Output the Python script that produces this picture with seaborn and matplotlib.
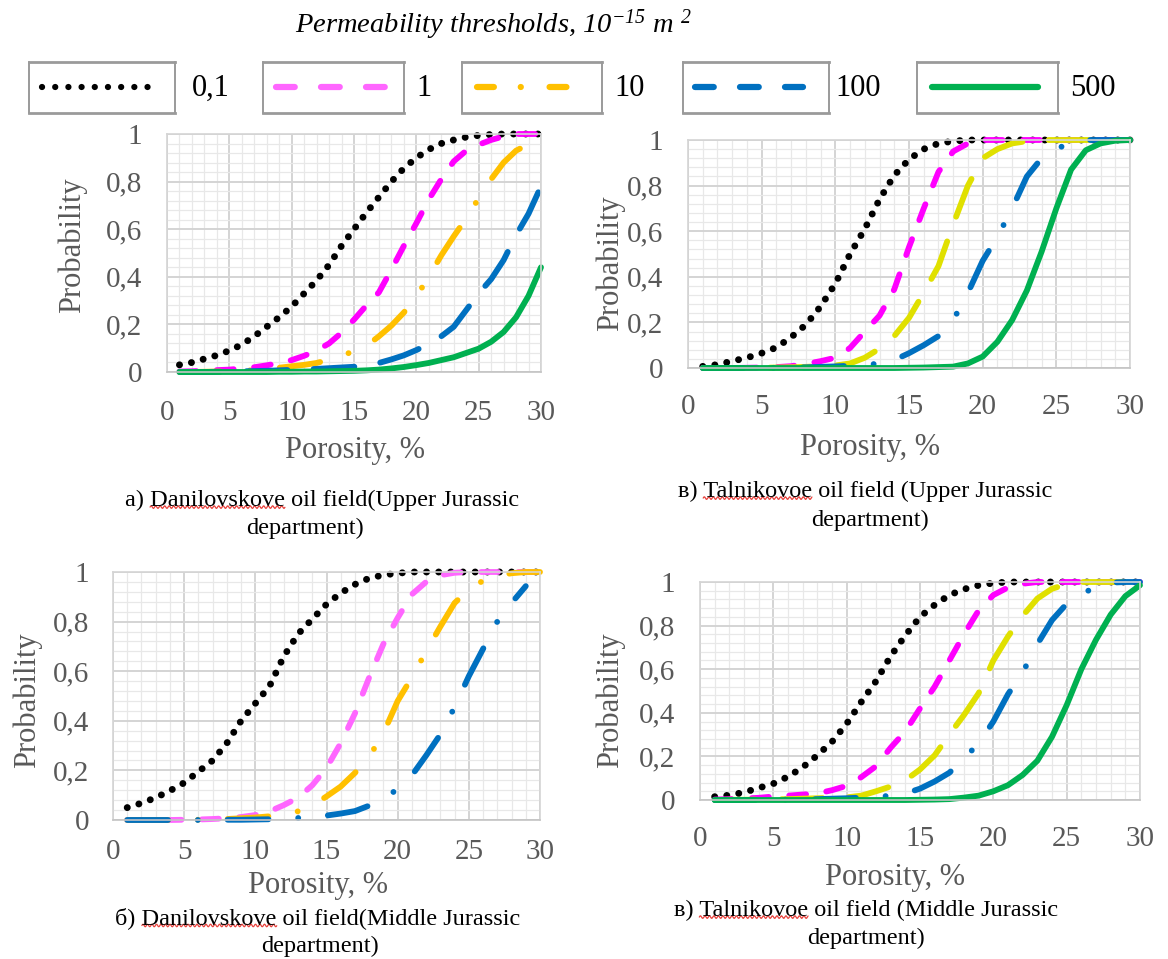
import numpy as np
import pandas as pd
import matplotlib
matplotlib.use("Agg")
import matplotlib.pyplot as plt
import seaborn as sns
from matplotlib.ticker import MultipleLocator, FuncFormatter
from matplotlib.lines import Line2D
from matplotlib.transforms import IdentityTransform

# ---------------- data ----------------
porosity = list(range(1, 31))
thresholds = ["0,1", "1", "10", "100", "500"]

# a) Danilovskove, Upper Jurassic
dan_up_01 = [0.03, 0.04, 0.055, 0.07, 0.09, 0.115, 0.15, 0.19, 0.23, 0.275, 0.33, 0.385, 0.45, 0.53, 0.60,
             0.67, 0.735, 0.80, 0.856, 0.90, 0.935, 0.96, 0.975, 0.987, 0.994, 0.998, 1, 1, 1, 1]
dan_up_1 = [0.002, 0.003, 0.005, 0.008, 0.01, 0.015, 0.02, 0.028, 0.038, 0.05, 0.068, 0.09, 0.12, 0.165, 0.22,
            0.28, 0.335, 0.43, 0.53, 0.625, 0.725, 0.81, 0.885, 0.93, 0.955, 0.975, 0.99, 1, 1, 1]
dan_up_10 = [0, 0, 0.001, 0.002, 0.003, 0.005, 0.008, 0.012, 0.018, 0.024, 0.03, 0.038, 0.052, 0.068, 0.088,
             0.11, 0.15, 0.195, 0.25, 0.317, 0.40, 0.49, 0.57, 0.645, 0.73, 0.81, 0.88, 0.93, 0.957, 0.975]
dan_up_100 = [0, 0, 0, 0.001, 0.002, 0.003, 0.004, 0.005, 0.007, 0.009, 0.011, 0.013, 0.016, 0.019, 0.022,
              0.027, 0.038, 0.053, 0.07, 0.092, 0.118, 0.15, 0.19, 0.26, 0.33, 0.39, 0.47, 0.575, 0.665, 0.78]
dan_up_500 = [0, 0, 0, 0, 0, 0, 0, 0, 0.001, 0.001, 0.002, 0.002, 0.003, 0.004, 0.005,
              0.007, 0.01, 0.015, 0.021, 0.029, 0.038, 0.05, 0.062, 0.08, 0.098, 0.127, 0.168, 0.23, 0.32, 0.44]

# в) Talnikovoe, Upper Jurassic
tal_up_01 = [0.007, 0.015, 0.03, 0.045, 0.065, 0.09, 0.135, 0.19, 0.27, 0.37, 0.50, 0.61, 0.74, 0.845, 0.915,
             0.96, 0.985, 0.995, 1, 1, 1, 1, 1, 1, 1, 1, 1, 1, 1, 1]
tal_up_1 = [0, 0, 0, 0.001, 0.002, 0.004, 0.008, 0.018, 0.03, 0.045, 0.088, 0.16, 0.23, 0.345, 0.53,
            0.70, 0.86, 0.95, 0.985, 1, 1, 1, 1, 1, 1, 1, 1, 1, 1, 1]
tal_up_10 = [0, 0, 0, 0, 0.001, 0.002, 0.003, 0.005, 0.008, 0.011, 0.02, 0.045, 0.085, 0.14, 0.22,
             0.33, 0.447, 0.63, 0.80, 0.92, 0.96, 0.985, 0.995, 1, 1, 1, 1, 1, 1, 1]
tal_up_100 = [0, 0, 0, 0, 0, 0.001, 0.002, 0.003, 0.005, 0.007, 0.01, 0.013, 0.02, 0.035, 0.065,
              0.10, 0.14, 0.21, 0.33, 0.47, 0.575, 0.70, 0.84, 0.92, 0.96, 0.99, 1, 1, 1, 1]
tal_up_500 = [0, 0, 0, 0, 0, 0, 0, 0, 0, 0, 0, 0, 0, 0, 0.001,
              0.002, 0.004, 0.006, 0.02, 0.05, 0.115, 0.21, 0.34, 0.51, 0.70, 0.87, 0.955, 0.985, 0.997, 1]

# б) Danilovskove, Middle Jurassic
dan_mid_01 = [0.05, 0.068, 0.09, 0.118, 0.15, 0.195, 0.24, 0.31, 0.40, 0.47, 0.54, 0.66, 0.75, 0.81, 0.87,
              0.915, 0.95, 0.975, 0.988, 0.995, 1, 1, 1, 1, 1, 1, 1, 1, 1, 1]
dan_mid_1 = [0, 0, 0, 0, 0.001, 0.002, 0.004, 0.007, 0.012, 0.02, 0.035, 0.06, 0.09, 0.14, 0.21,
             0.31, 0.43, 0.575, 0.71, 0.815, 0.91, 0.96, 0.987, 0.997, 1, 1, 1, 1, 1, 1]
dan_mid_10 = [0, 0, 0, 0, 0, 0.001, 0.002, 0.004, 0.007, 0.01, 0.015, 0.022, 0.035, 0.058, 0.095,
              0.135, 0.19, 0.255, 0.35, 0.48, 0.575, 0.68, 0.78, 0.875, 0.93, 0.965, 0.985, 0.995, 1, 1]
dan_mid_100 = [0, 0, 0, 0, 0, 0, 0, 0.001, 0.001, 0.002, 0.003, 0.005, 0.008, 0.012, 0.018,
               0.026, 0.036, 0.058, 0.085, 0.125, 0.18, 0.26, 0.345, 0.455, 0.58, 0.69, 0.80, 0.875, 0.943, np.nan]

# в) Talnikovoe, Middle Jurassic
tal_mid_01 = [0.015, 0.022, 0.035, 0.055, 0.075, 0.107, 0.15, 0.205, 0.267, 0.35, 0.45, 0.545, 0.66, 0.755, 0.84,
              0.895, 0.94, 0.967, 0.985, 0.995, 1, 1, 1, 1, 1, 1, 1, 1, 1, 1]
tal_mid_1 = [0.002, 0.004, 0.007, 0.01, 0.016, 0.02, 0.025, 0.03, 0.045, 0.065, 0.105, 0.155, 0.24, 0.315, 0.42,
             0.52, 0.64, 0.76, 0.87, 0.94, 0.975, 0.992, 1, 1, 1, 1, 1, 1, 1, 1]
tal_mid_10 = [0, 0.001, 0.001, 0.002, 0.003, 0.004, 0.006, 0.008, 0.01, 0.012, 0.02, 0.04, 0.062, 0.09, 0.14,
              0.205, 0.30, 0.39, 0.49, 0.64, 0.75, 0.845, 0.924, 0.969, 0.99, 1, 1, 1, 1, 1]
tal_mid_100 = [0, 0, 0, 0.001, 0.001, 0.002, 0.003, 0.004, 0.006, 0.008, 0.011, 0.014, 0.02, 0.03, 0.052,
               0.085, 0.125, 0.19, 0.26, 0.36, 0.485, 0.585, 0.715, 0.825, 0.9, 0.945, 0.977, 0.997, 1, 1]
tal_mid_500 = [0, 0, 0, 0, 0, 0, 0, 0, 0, 0, 0, 0, 0, 0, 0.001,
               0.002, 0.004, 0.011, 0.02, 0.04, 0.068, 0.115, 0.18, 0.29, 0.435, 0.60, 0.735, 0.85, 0.935, 0.985]

captions = [
    ("а) ", "Danilovskove", " oil field(Upper Jurassic", "department)"),
    ("в) ", "Talnikovoe", " oil field (Upper Jurassic", "department)"),
    ("б) ", "Danilovskove", " oil field(Middle Jurassic", "department)"),
    ("в) ", "Talnikovoe", " oil field (Middle Jurassic", "department)"),
]

# ---------------- styling ----------------
sns.set_theme(style="white")
plt.rcParams["font.family"] = ["Liberation Serif", "DejaVu Serif"]
plt.rcParams["mathtext.fontset"] = "custom"
plt.rcParams["mathtext.rm"] = "Liberation Serif:italic"
plt.rcParams["mathtext.it"] = "Liberation Serif:italic"

W, H = 1168, 959
fig = plt.figure(figsize=(W / 100, H / 100), dpi=100)
fig.patch.set_facecolor("white")


def rect(l, t, r, b):
    return [l / W, 1 - b / H, (r - l) / W, (b - t) / H]


BLACK, MAG, PINK = "#000000", "#ff00ff", "#ff66ff"
ORANGE, YELLOW, BLUE, GREEN = "#ffc000", "#e0e000", "#0070c0", "#00b050"
DOT = (0, (0.01, 1.74))
DASH = (0, (2.9, 3.5))
LDASH = (0, (7, 4.5))
DASHDOT = (0, (7, 5.1, 0.01, 5.1))
SOLID = "-"
LW = 4.2
LW_DOT = 5.0
TICK_FS, LAB_FS, CAP_FS = 21, 22, 17.5

panels = [
    dict(box=(167, 134, 541, 372), tickpad=(20, 18),
         ylab=(72, 245), xlab=(355, 450), cap=(322, 500, 305, 528), capt=captions[0],
         series=[(dan_up_01, BLACK, DOT), (dan_up_1, MAG, DASH), (dan_up_10, ORANGE, DASHDOT),
                 (dan_up_100, BLUE, LDASH), (dan_up_500, GREEN, SOLID)]),
    dict(box=(688, 140, 1130, 368), tickpad=(19, 18),
         ylab=(610, 263), xlab=(870, 448), cap=(865, 491, 870, 520), capt=captions[1],
         series=[(tal_up_01, BLACK, DOT), (tal_up_1, MAG, DASH), (tal_up_10, YELLOW, LDASH),
                 (tal_up_100, BLUE, DASHDOT), (tal_up_500, GREEN, SOLID)]),
    dict(box=(113, 572, 540, 820), tickpad=(14, 17),
         ylab=(27, 700), xlab=(318, 886), cap=(318, 918, 320, 946), capt=captions[2],
         series=[(dan_mid_01, BLACK, DOT), (dan_mid_1, PINK, DASH), (dan_mid_10, ORANGE, DASHDOT),
                 (dan_mid_100, BLUE, DASHDOT)]),
    dict(box=(700, 582, 1140, 800), tickpad=(19, 18),
         ylab=(610, 700), xlab=(895, 877), cap=(866, 910, 866, 938), capt=captions[3],
         series=[(tal_mid_01, BLACK, DOT), (tal_mid_1, MAG, DASH), (tal_mid_10, YELLOW, LDASH),
                 (tal_mid_100, BLUE, DASHDOT), (tal_mid_500, GREEN, SOLID)]),
]

fmt = FuncFormatter(lambda v, p: ("%g" % round(v, 2)).replace(".", ","))

for p in panels:
    l, t, r, b = p["box"]
    ax = fig.add_axes(rect(l, t, r, b))
    for vals, col, ls in p["series"]:
        df = pd.DataFrame({"Porosity": porosity, "Probability": vals})
        sns.lineplot(data=df, x="Porosity", y="Probability", ax=ax, color=col,
                     linestyle=ls, linewidth=(LW_DOT if ls == DOT else LW),
                     estimator=None, sort=False)
        ln = ax.lines[-1]
        ln.set_dash_capstyle("round")
        ln.set_solid_capstyle("round")
        ln.set_clip_on(False)
    ax.set_xlim(0, 30)
    ax.set_ylim(0, 1)
    ax.xaxis.set_major_locator(MultipleLocator(5))
    ax.xaxis.set_minor_locator(MultipleLocator(1))
    ax.yaxis.set_major_locator(MultipleLocator(0.2))
    ax.yaxis.set_minor_locator(MultipleLocator(0.04))
    ax.xaxis.set_major_formatter(fmt)
    ax.yaxis.set_major_formatter(fmt)
    ax.set_axisbelow(True)
    ax.grid(True, which="major", color="#d4d4d4", linewidth=1.4)
    ax.grid(True, which="minor", color="#e8e8e8", linewidth=0.9)
    for s in ax.spines.values():
        s.set_color("#d4d4d4")
        s.set_linewidth(1.2)
    ax.spines["bottom"].set_color("#c4c4c4")
    ax.tick_params(which="both", length=0, labelsize=TICK_FS, labelcolor="#595959")
    ax.tick_params(axis="x", pad=p["tickpad"][0])
    ax.tick_params(axis="y", pad=p["tickpad"][1])
    ax.set_xlabel("Porosity, %", fontsize=LAB_FS, color="#595959", va="center")
    ax.set_ylabel("Probability", fontsize=LAB_FS, color="#595959", va="center")
    xl, yl = p["xlab"]
    ax.xaxis.set_label_coords((xl - l) / (r - l), (b - yl) / (b - t))
    xl, yl = p["ylab"]
    ax.yaxis.set_label_coords((xl - l) / (r - l), (b - yl) / (b - t))

# ---------------- captions (with the spell-check wave under the field name) ----------------
renderer = fig.canvas.get_renderer()


def text_width(s):
    tt = fig.text(0, 0, s, fontsize=CAP_FS)
    w = tt.get_window_extent(renderer).width
    tt.remove()
    return w


for p in panels:
    pre, word, post, line2 = p["capt"]
    x1, y1, x2, y2 = p["cap"]
    line1 = pre + word + post
    t1 = fig.text(x1 / W, 1 - y1 / H, line1, ha="center", va="center", fontsize=CAP_FS, color="black")
    fig.text(x2 / W, 1 - y2 / H, line2, ha="center", va="center", fontsize=CAP_FS, color="black")
    bb = t1.get_window_extent(renderer)
    w_end = text_width(pre + word)
    w_start = w_end - text_width(word)
    xs = np.linspace(bb.x0 + w_start, bb.x0 + w_end, 200)
    yw = bb.y0 + 3.5
    ys = yw + 1.3 * np.sin(2 * np.pi * (xs - xs[0]) / 4.5)
    fig.add_artist(Line2D(xs, ys, transform=IdentityTransform(), color="#e8413c", linewidth=0.9))

# ---------------- legend ----------------
fig.text(493 / W, 1 - 25 / H, r"Permeability thresholds, 10$^{-15}$ m $^{2}$",
         ha="center", va="center", fontsize=20.5, style="italic", color="black")

leg_boxes = [(29, 175), (263, 404), (462, 602), (683, 829), (917, 1058)]
leg_text_x = [192, 416, 614, 835, 1070]
# visible extents of the sample line (pixels) and style
leg_lines = [(42, 160, BLACK, (0, (0.01, 2.1))),
             (276, 385, PINK, (0, (3.0, 4.2))),
             (477, 567, ORANGE, (0, (2.7, 4.3, 0.01, 4.6))),
             (695, 803, BLUE, (0, (3.0, 4.2))),
             (932, 1038, GREEN, SOLID)]
for (bl, br), tx, (x0, x1, col, ls), lab in zip(leg_boxes, leg_text_x, leg_lines, thresholds):
    lax = fig.add_axes(rect(bl, 62, br, 113))
    lax.set_xlim(bl, br)
    lax.set_ylim(0, 1)
    sns.lineplot(x=[x0, x1], y=[0.5, 0.5], ax=lax, color=col, linestyle=ls, linewidth=4.5)
    lax.lines[-1].set_dash_capstyle("round")
    lax.set_xticks([])
    lax.set_yticks([])
    lax.set_xlabel("")
    lax.set_ylabel("")
    for s in lax.spines.values():
        s.set_color("#7f7f7f")
        s.set_linewidth(1.1)
    for side in ("top", "bottom"):
        lax.spines[side].set_linewidth(2.0)
        lax.spines[side].set_color("#9a9a9a")
    fig.text(tx / W, 1 - 88 / H, lab, ha="left", va="center", fontsize=22, color="black")

fig.savefig("out.png", dpi=100, facecolor="white")
